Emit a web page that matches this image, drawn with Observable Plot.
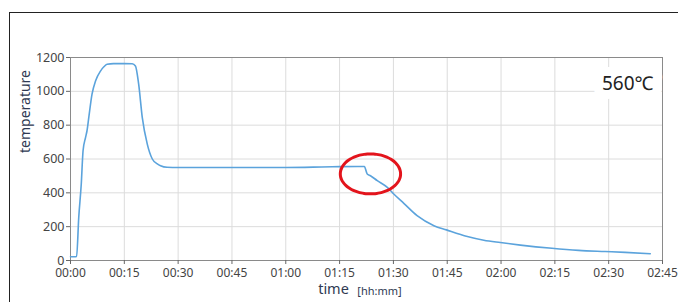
<!DOCTYPE html>
<html>
<head>
<meta charset="utf-8">
<script src="https://cdn.jsdelivr.net/npm/d3@7"></script>
<script src="https://cdn.jsdelivr.net/npm/@observablehq/plot@0.6"></script>
<style>
  html, body { margin: 0; padding: 0; background: #fff; }
  #wrap { position: relative; width: 678px; height: 302px; overflow: hidden; }
  #border { position: absolute; left: 9px; top: 12px; width: 720px; height: 340px; border: 1.5px solid #222; box-sizing: border-box; pointer-events: none; }
  #chart { position: absolute; left: 0; top: 0; }
</style>
</head>
<body>
<div id="wrap"><div id="chart"></div><div id="border"></div></div>
<script>
// time in minutes since start
const times = [0, 1, 1.7, 2.3, 3.0, 3.5, 4.2, 4.6, 5.1, 6.0, 7.0, 8.4, 9.3, 10.2, 12, 15, 17.2, 18.1, 19.0, 20.0, 21.4, 22.8, 24.2, 25.1, 26.9, 30, 45, 60, 70, 75, 80, 81.9, 82.7, 83.6, 85.5, 88.3, 90.1, 92.9, 96.6, 101.3, 104.8, 110.6, 115.2, 119.8, 125.4, 134.2, 141.6, 149, 154.6, 161.6];
const temps = [22, 22, 24, 256, 452, 649, 728, 767, 846, 983, 1062, 1121, 1145, 1160, 1164, 1164, 1163, 1150, 1042, 846, 688, 600, 571, 560, 551, 550, 550, 550, 553, 555, 556, 556, 511, 501, 472, 432, 393, 338, 265, 206, 181, 142, 120, 106, 91, 72, 60, 53, 48, 40];
const xTicks = [0, 15, 30, 45, 60, 75, 90, 105, 120, 135, 150, 165];
const yTicks = [0, 200, 400, 600, 800, 1000, 1200];
const annotationLabel = "560℃";
// highlighted region (center and half-extent, data units)
const highlight = {t: 83.6, v: 512, dt: 8.4, dv: 118};

const data = times.map((t, i) => ({t, v: temps[i]}));
const fmt = m => String(Math.floor(m / 60)).padStart(2, "0") + ":" + String(m % 60).padStart(2, "0");
const ellipse = d3.range(0, 361, 6).map(a => ({
  t: highlight.t + highlight.dt * Math.cos(a * Math.PI / 180),
  v: highlight.v + highlight.dv * Math.sin(a * Math.PI / 180)
}));

const chart = Plot.plot({
  width: 678,
  height: 302,
  marginLeft: 70,
  marginRight: 16,
  marginTop: 57,
  marginBottom: 42,
  style: {fontFamily: "'Noto Sans', 'Open Sans', sans-serif", fontSize: "12px", color: "#444", background: "transparent"},
  x: {domain: [0, 165], label: null},
  y: {domain: [0, 1200], label: null},
  marks: [
    Plot.gridX(xTicks, {stroke: "#dcdcdc", strokeOpacity: 1}),
    Plot.gridY(yTicks, {stroke: "#dcdcdc", strokeOpacity: 1}),
    Plot.frame({stroke: "#8a8a8a"}),
    Plot.axisX(xTicks, {tickFormat: fmt, tickSize: 4, tickPadding: 4, stroke: "#666", fill: "#444", fontSize: 12, label: null}),
    Plot.axisY(yTicks, {tickFormat: d => String(d), tickSize: 4, tickPadding: 2, stroke: "#666", fill: "#444", fontSize: 12.5, label: null}),
    Plot.line(data, {x: "t", y: "v", stroke: "#5ba3dc", strokeWidth: 1.6, curve: "monotone-x"}),
    Plot.line(ellipse, {x: "t", y: "v", stroke: "#e3141c", strokeWidth: 3, curve: "catmull-rom"}),
    Plot.text([annotationLabel], {frameAnchor: "top-right", dx: -9, dy: 19, fontSize: 19, fill: "#222", stroke: "white", strokeWidth: 18, paintOrder: "stroke", textAnchor: "end"}),
    Plot.text(["temperature"], {frameAnchor: "left", rotate: -90, dx: -45, dy: -6, fontSize: 14, fill: "#2f3a52"}),
    Plot.text(["time"], {frameAnchor: "bottom", dx: -33, dy: 33, fontSize: 14.5, fill: "#2f3a52"}),
    Plot.text(["[hh:mm]"], {frameAnchor: "bottom", dx: 13, dy: 34, fontSize: 11, fill: "#2f3a52"})
  ]
});
document.getElementById("chart").appendChild(chart);
</script>
</body>
</html>
